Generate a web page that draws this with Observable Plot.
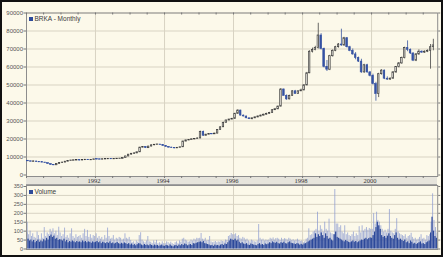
<!DOCTYPE html>
<html><head><meta charset="utf-8">
<script src="https://cdn.jsdelivr.net/npm/d3@7"></script>
<script src="https://cdn.jsdelivr.net/npm/@observablehq/plot@0.6"></script>
<style>
html,body{margin:0;padding:0;background:#fff;}
#wrap{position:relative;width:444px;height:259px;overflow:hidden;}
#box{position:absolute;left:0;top:0;width:443px;height:257px;box-sizing:border-box;border:2px solid #111;background:#fcf9ea;}
#band{position:absolute;left:26px;top:176px;width:411px;height:9px;background:#e6e4dc;border-top:1px solid #9a9a9a;border-bottom:1px solid #a0a0a0;box-sizing:border-box;}
.leg{position:absolute;font:6.5px "Liberation Sans",Arial,sans-serif;color:#3a3a3a;white-space:nowrap;line-height:7px;}
.leg i{display:inline-block;width:4px;height:4px;background:#2d4a9a;margin-right:1.5px;vertical-align:0px}
#p1,#p2{position:absolute;left:0;}
#p1{top:0}#p2{top:185px}
</style></head>
<body><div id="wrap"><div id="box"></div><div id="band"></div><div id="p1"></div><div id="p2"></div>
<div class="leg" style="left:29px;top:15px"><i></i>BRKA - Monthly</div>
<div class="leg" style="left:29px;top:188px"><i></i>Volume</div>
</div>
<script>
// Monthly candles, Jan 1990 .. Oct 2001
const open = [
7900,7600,7400,7500,7200,7100,6900,6600,6100,5600,5400,6200,
6600,6900,7400,7800,8000,8100,8200,8100,8300,8400,8300,8300,
8700,8650,8600,8700,8800,8900,8800,8900,8950,9000,9400,10300,
11300,11800,12000,12600,15200,15600,14900,15800,16500,16800,16900,16700,
16100,15600,15200,15000,14800,15100,15400,18600,19200,19500,19800,20000,
20300,24000,21800,22400,22800,22600,23000,25000,26500,29000,30300,30800,
31200,34000,35800,33000,32500,31500,31000,31500,32000,32500,33000,33500,
34000,34500,36000,36500,38000,47500,44000,42000,44000,46500,45000,46500,
47000,49800,56500,68500,69500,70500,77500,70000,60000,58500,66000,69000,
71000,72500,72000,76000,71000,69000,67000,65000,63000,57000,61000,57000,
55000,50500,45000,56000,58000,53500,53000,53500,57000,60000,62000,65000,
70500,69500,67500,63500,67000,68500,68000,68500,69000,71000];
const high = [
8100,7700,7700,7600,7400,7200,7000,6700,6200,5800,6300,6800,
7000,7500,7900,8200,8300,8400,8300,8400,8600,8500,8500,8800,
8900,8800,8800,8900,9000,9000,9000,9100,9100,9500,10400,11400,
11900,12200,12800,15400,15800,15700,15900,16600,16900,17100,17000,16800,
16300,15800,15400,15200,15300,15600,18800,19400,19700,20000,20200,20500,
24300,24400,22600,23000,23000,23200,25200,26700,29300,30500,31000,31500,
34300,36200,36000,33300,32700,31700,31700,32300,32800,33300,33800,34300,
34800,36300,37000,38300,48000,47800,44500,44300,46800,47000,46800,47700,
50200,57000,69000,70500,71500,84300,78500,70500,63600,66500,69500,71500,
73000,81000,76500,76400,71500,70000,68000,65500,64300,61500,61500,57500,
56000,51500,56500,58500,58300,54500,54000,57500,60300,62500,65500,71000,
74500,70000,68000,67500,69500,69000,69000,69500,72500,75400];
const low = [
7500,7300,7300,7100,7000,6800,6500,6000,5500,5200,5300,6100,
6400,6800,7300,7700,7900,8000,7900,8000,8200,8100,8200,8200,
8500,8500,8500,8600,8700,8700,8700,8800,8800,8900,9300,10200,
11200,11600,11900,12500,15000,14700,14800,15700,16300,16600,16400,15900,
15400,15000,14800,14600,14700,15000,15300,18400,19000,19300,19600,19800,
20200,21500,21600,22200,22400,22500,22900,24900,26400,28800,30100,30600,
31000,33800,32800,32300,31300,30800,30700,31300,31800,32300,32800,33300,
33800,34300,35800,36300,37800,43800,41500,41800,43800,44800,44800,46300,
46800,49500,56300,67800,69000,70000,69500,59500,57500,58000,65500,68500,
70500,71500,71500,70500,68500,66500,64000,62500,56500,56500,56500,54500,
50000,41000,43000,55500,53000,52500,52500,53200,56500,59500,61500,64500,
68500,67000,63000,63000,66500,67500,67500,68000,58800,69000];
const close = [
7600,7400,7500,7200,7100,6900,6600,6100,5600,5400,6200,6600,
6900,7400,7800,8000,8100,8200,8100,8300,8400,8300,8300,8700,
8650,8600,8700,8800,8900,8800,8900,8950,9000,9400,10300,11300,
11800,12000,12600,15200,15600,14900,15800,16500,16800,16900,16700,16100,
15600,15200,15000,14800,15100,15400,18600,19200,19500,19800,20000,20300,
24000,21800,22400,22800,22600,23000,25000,26500,29000,30300,30800,31200,
34000,35800,33000,32500,31500,31000,31500,32000,32500,33000,33500,34000,
34500,36000,36500,38000,47500,44000,42000,44000,46500,45000,46500,47000,
49800,56500,68500,69500,70500,77500,70000,60000,58500,66000,69000,71000,
72500,72000,76000,71000,69000,67000,65000,63000,57000,61000,57000,55000,
50500,45000,56000,58000,53500,53000,53500,57000,60000,62000,65000,70500,
69500,67500,63500,67000,68500,68000,68500,69000,71000,72000];

// Volume, half-monthly (thousands): dense base and peak
const volBase = [
90,55,45,50,40,48,35,42,50,38,45,40,52,45,60,50,70,78,65,72,55,60,48,52,
50,45,55,40,48,35,42,38,45,40,35,42,38,40,35,45,38,42,35,40,38,32,40,35,
38,42,35,40,30,38,34,30,36,32,40,30,34,28,32,36,30,26,32,28,34,30,25,30,
22,28,20,25,18,24,30,28,22,18,25,20,22,18,24,20,16,22,18,20,15,18,22,16,
15,20,18,14,22,16,12,18,20,15,22,18,25,20,28,24,18,22,25,20,30,28,32,35,
38,40,35,42,30,28,25,22,18,20,15,22,18,20,16,22,25,20,28,25,35,45,55,50,
48,55,45,50,38,30,35,28,25,30,22,20,28,25,22,20,18,25,30,22,25,20,28,24,
28,35,30,40,35,32,38,30,28,35,32,38,30,28,35,40,32,30,28,25,30,28,22,26,
22,28,30,35,40,45,50,55,60,85,65,80,70,90,75,60,85,70,55,60,50,45,80,95,
65,60,55,50,45,40,48,42,38,35,40,45,38,42,35,40,45,50,48,55,60,52,58,62,
60,75,95,120,150,130,110,75,65,70,60,72,85,70,60,55,75,90,60,50,55,48,42,50,
35,40,30,45,38,28,32,25,30,35,40,28,30,25,35,40,45,90,178,100,70,60];
const volPeak = [
150,80,100,70,85,65,60,95,75,55,85,60,120,70,90,80,110,95,113,85,100,75,122,90,
70,80,117,65,75,60,85,113,70,60,80,65,70,75,60,85,110,70,104,65,80,60,75,70,
85,60,70,55,65,50,75,60,117,70,55,60,75,50,60,55,65,60,50,55,85,60,55,65,
48,35,40,30,45,38,75,91,50,40,35,45,70,40,38,30,45,35,48,30,35,28,40,30,
30,40,35,28,38,30,25,35,40,30,45,38,55,60,50,45,38,40,50,45,55,50,60,58,
60,87,55,50,60,45,48,70,40,35,38,42,35,40,38,45,42,40,50,48,70,75,87,80,
80,85,70,75,60,55,65,60,50,55,45,40,50,45,40,38,45,137,60,50,55,45,50,48,
50,60,55,62,50,58,60,55,48,60,52,58,55,50,60,55,48,52,45,50,55,48,42,45,
35,40,55,60,113,75,80,95,100,110,206,100,130,110,95,150,110,100,167,90,85,80,333,140,
140,120,130,95,85,130,80,90,75,70,80,95,70,85,75,125,90,130,100,110,120,105,115,110,
110,198,140,206,160,150,130,110,95,105,90,110,221,100,90,85,110,170,95,85,80,75,70,80,
60,70,75,88,65,55,60,50,55,65,80,55,60,50,75,70,80,150,309,160,120,90];

const priceTicks = [0,10000,20000,30000,40000,50000,60000,70000,80000,90000];
const volTicks = [0,50,100,150,200,250,300,350];
const yearLabels = [1992,1994,1996,1998,2000];

const DAY = 864e5;
const rows = open.map((o,i)=>{
  const d = new Date(Date.UTC(1990,i,1));
  let lo = Math.min(o,close[i]), hi = Math.max(o,close[i]);
  if (hi-lo < 250) { const m=(hi+lo)/2; lo=m-125; hi=m+125; }
  return {d, o, h:high[i], l:low[i], c:close[i], lo, hi, up: close[i]>=o};
});
const upRows = rows.filter(r=>r.up), dnRows = rows.filter(r=>!r.up);
const vol = volBase.map((v,k)=>({
  x1: new Date(Date.UTC(1990+Math.floor(k/24), Math.floor((k%24)/2), k%2?16:1)),
  x2: new Date(Date.UTC(1990+Math.floor((k+1)/24), Math.floor(((k+1)%24)/2), (k+1)%2?16:1)),
  base: v, peak: volPeak[k]
}));
const yearDates = yearLabels.map(y=>new Date(Date.UTC(y,0,1)));
const halfYears = d3.range(1990,2002).flatMap(y=>[new Date(Date.UTC(y,0,1)),new Date(Date.UTC(y,6,1))]);
const xDomain = [new Date(Date.UTC(1990,0,1)), new Date(Date.UTC(2001,11,1))];
const GRID = "#d8d3c3", UPS = "#3a3a3a", DN = "#3552a3";
const font = "Liberation Sans, Arial, sans-serif";

const p1 = Plot.plot({
  width:444, height:186, marginLeft:26, marginRight:6.8, marginTop:12.5, marginBottom:10,
  style:{background:"transparent", overflow:"visible", fontFamily:font},
  x:{type:"utc", domain:xDomain, axis:null},
  y:{domain:[-830,90000], axis:null},
  color:{domain:["up","dn"], range:["#444","#3a55a0"]},
  marks:[
    Plot.gridY(priceTicks.slice(1), {stroke:GRID, strokeOpacity:1}),
    Plot.gridX(yearDates, {stroke:GRID, strokeOpacity:1}),
    Plot.frame({stroke:"#8d8d8d"}),
    Plot.ruleX(halfYears, {stroke:"#777", insetBottom:161.5}),
    Plot.ruleX(rows, {x:d=>new Date(+d.d+15*DAY), y1:"l", y2:"h", stroke:d=>d.up?"up":"dn", strokeWidth:0.8}),
    Plot.rect(upRows, {x1:d=>new Date(+d.d+8*DAY), x2:d=>new Date(+d.d+23*DAY), y1:"lo", y2:"hi", fill:"#fffdf5", stroke:UPS, strokeWidth:0.7}),
    Plot.rect(dnRows, {x1:d=>new Date(+d.d+7*DAY), x2:d=>new Date(+d.d+24*DAY), y1:"lo", y2:"hi", fill:DN, stroke:DN, strokeWidth:0.6}),
    Plot.axisY(priceTicks, {anchor:"left", tickSize:2.5, tickPadding:1, fontSize:6, fill:"#555", stroke:"#777", tickFormat:d=>String(d)}),
    Plot.axisY(priceTicks, {anchor:"right", tickSize:2, stroke:"#777", tickFormat:()=>""}),
    Plot.axisX(halfYears, {anchor:"bottom", tickSize:2, stroke:"#777", tickFormat:()=>""}),
    Plot.axisX(yearDates, {anchor:"bottom", tickSize:0, tickPadding:2.3, dx:-1.5, fontSize:6.5, fontFamily:"Liberation Serif, serif", fill:"#333", tickFormat:d=>String(d.getUTCFullYear())})
  ]
});
document.getElementById("p1").appendChild(p1);

const p2 = Plot.plot({
  width:444, height:64, marginLeft:26, marginRight:6.8, marginTop:0, marginBottom:0,
  style:{background:"transparent", overflow:"visible", fontFamily:font},
  x:{type:"utc", domain:xDomain, axis:null},
  y:{domain:[-2.8,355.6], axis:null},
  marks:[
    Plot.gridY(volTicks.slice(1,7), {stroke:GRID, strokeOpacity:1}),
    Plot.gridX(yearDates, {stroke:GRID, strokeOpacity:1}),
    Plot.ruleX(vol, {x:d=>new Date(+d.x1+7*DAY), y1:0, y2:"peak", stroke:"#8797d0", strokeWidth:0.7}),
    Plot.rect(vol, {x1:"x1", x2:"x2", y1:0, y2:"base", fill:"#2b489a", insetRight:0.25}),
    Plot.frame({stroke:"#8d8d8d"}),
    Plot.axisY(volTicks, {anchor:"left", tickSize:2.5, tickPadding:1, fontSize:5.5, fill:"#555", stroke:"#777", tickFormat:d=>String(d)}),
    Plot.axisY(volTicks, {anchor:"right", tickSize:2, stroke:"#777", tickFormat:()=>""})
  ]
});
document.getElementById("p2").appendChild(p2);
</script>
</body></html>
